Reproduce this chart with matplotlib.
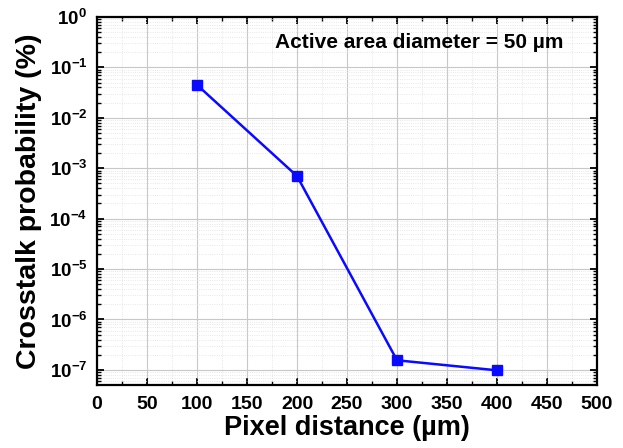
import matplotlib
matplotlib.use("Agg")
import matplotlib.pyplot as plt
from matplotlib.ticker import LogLocator, MultipleLocator, NullFormatter

plt.rcParams['font.family'] = ['Liberation Sans', 'DejaVu Sans']
plt.rcParams['font.weight'] = 'bold'
plt.rcParams['mathtext.default'] = 'bf'

distance = [100, 200, 300, 400]
crosstalk = [4.5e-2, 7.0e-4, 1.55e-7, 9.8e-8]

fig = plt.figure(figsize=(6.23, 4.48), dpi=100)
ax = fig.add_axes([97/623, 1 - 385/448, 500/623, 368/448])

ax.plot(distance, crosstalk, color='#0a0aff', lw=1.8, marker='s', ms=7, zorder=3)
ax.set_yscale('log')
ax.set_xlim(0, 500)
ax.set_ylim(10**-7.3, 1)

ax.xaxis.set_major_locator(MultipleLocator(50))
ax.xaxis.set_minor_locator(MultipleLocator(25))
ax.xaxis.set_minor_formatter(NullFormatter())
ax.yaxis.set_major_locator(LogLocator(base=10, numticks=20))
ax.yaxis.set_minor_locator(LogLocator(base=10, subs=range(2, 10), numticks=20))
ax.yaxis.set_minor_formatter(NullFormatter())

ax.grid(which='major', color='#c8c8c8', lw=0.8)
ax.grid(which='minor', color='#e0e0e0', lw=0.6, ls=':')
ax.set_axisbelow(True)

ax.tick_params(which='both', direction='in', top=True, right=True)
ax.tick_params(axis='x', labelsize=14, pad=8)
ax.tick_params(axis='y', labelsize=13.5, pad=7)
ax.tick_params(which='major', length=5, width=1.3)
ax.tick_params(which='minor', length=3, width=1.0)
for s in ax.spines.values():
    s.set_linewidth(1.6)
for lab in ax.get_xticklabels() + ax.get_yticklabels():
    lab.set_fontweight('bold')

ax.set_xlabel('Pixel distance (µm)', fontsize=19.5, fontweight='bold', labelpad=1)
ax.set_ylabel('Crosstalk probability (%)', fontsize=20.5, fontweight='bold', labelpad=5)
ax.text(0.932, 0.932, 'Active area diameter = 50 µm', transform=ax.transAxes,
        ha='right', va='center', fontsize=15, fontweight='bold')

fig.savefig('out.png', dpi=100)
